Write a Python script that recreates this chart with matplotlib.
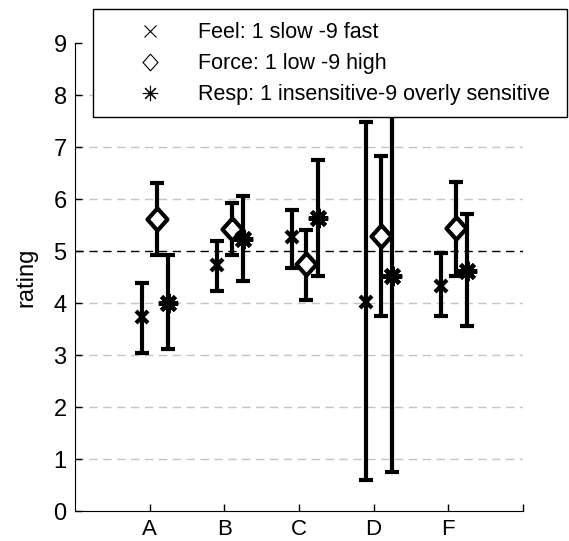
import matplotlib
matplotlib.use('Agg')
import matplotlib.pyplot as plt
from matplotlib.lines import Line2D
from matplotlib.patches import Rectangle
import numpy as np

plt.rcParams['font.family'] = ['Liberation Sans', 'DejaVu Sans']

cats = ['A', 'B', 'C', 'D', 'F']

# mean, lower end, upper end of each error bar
feel = [3.73, 4.73, 5.27, 4.02, 4.33]
feel_lo = [3.04, 4.23, 4.67, 0.60, 3.75]
feel_hi = [4.38, 5.19, 5.79, 7.48, 4.96]

force = [5.62, 5.42, 4.75, 5.29, 5.44]
force_lo = [4.92, 4.92, 4.06, 3.75, 4.52]
force_hi = [6.31, 5.92, 5.40, 6.83, 6.33]

resp = [4.00, 5.23, 5.63, 4.52, 4.62]
resp_lo = [3.12, 4.42, 4.52, 0.75, 3.56]
resp_hi = [4.92, 6.06, 6.75, 8.29, 5.71]

labels = ['Feel: 1 slow -9 fast', 'Force: 1 low -9 high',
          'Resp: 1 insensitive-9 overly sensitive']

W, H = 569, 541
fig = plt.figure(figsize=(W / 100, H / 100), dpi=100)
ax = fig.add_axes([75 / W, 1 - 511 / H, (523 - 75) / W, (511 - 43) / H])

diamond = [(0, 1), (0.9, 0), (0, -1), (-0.9, 0), (0, 1)]
asterisk = (8, 2, 0)

xpos = np.arange(1, len(cats) + 1)
series = [(feel, feel_lo, feel_hi, -0.1, 'x', 9),
          (force, force_lo, force_hi, 0.1, diamond, 16),
          (resp, resp_lo, resp_hi, 0.25, asterisk, 14)]

for m, lo, hi, off, mk, ms in series:
    m = np.array(m); lo = np.array(lo); hi = np.array(hi)
    ax.errorbar(xpos + off, m, yerr=[m - lo, hi - m], fmt='none',
                ecolor='black', elinewidth=3, capsize=5, capthick=3, zorder=3)
    ax.plot(xpos + off, m, linestyle='none', marker=mk, markersize=ms,
            markerfacecolor='white' if mk is diamond else 'black',
            markeredgecolor='black', markeredgewidth=3, zorder=4)

for g in [1, 2, 3, 4, 6, 7, 8]:
    ax.axhline(g, color='#c4c4c4', linestyle=(0, (6, 4)), linewidth=1, zorder=1)
ax.axhline(5, color='black', linestyle=(0, (6, 4)), linewidth=1, zorder=1)

ax.set_xlim(0, 6)
ax.set_ylim(0, 9)
ax.set_xticks(list(xpos) + [6])
ax.set_xticklabels(cats + [''])
ax.set_yticks(range(0, 10))
ax.tick_params(direction='in', length=5, width=1, labelsize=17)
ax.tick_params(axis='x', pad=6, labelsize=16)
ax.tick_params(axis='y', pad=6)
ax.spines['top'].set_visible(False)
ax.spines['right'].set_visible(False)
ax.set_ylabel('rating', fontsize=17)
ax.yaxis.set_label_coords(-0.083, 0.5)

# legend box drawn by hand, in pixel positions of the figure
fig.add_artist(Rectangle((93 / W, 1 - 117 / H), (567 - 93) / W, (117 - 9) / H,
                         transform=fig.transFigure, facecolor='white',
                         edgecolor='black', linewidth=1, zorder=5))
leg_marks = [('x', 9), (diamond, 12), (asterisk, 11)]
for (mk, ms), lab, y in zip(leg_marks, labels, [31, 62, 93]):
    fig.add_artist(Line2D([150 / W], [1 - y / H], transform=fig.transFigure,
                          linestyle='none', marker=mk, markersize=ms,
                          markeredgewidth=0.8, markerfacecolor='white',
                          markeredgecolor='black', zorder=6))
    fig.text(198 / W, 1 - (y + 7) / H, lab, fontsize=15.5, va='baseline',
             zorder=6)

fig.savefig('out.png', dpi=100)
